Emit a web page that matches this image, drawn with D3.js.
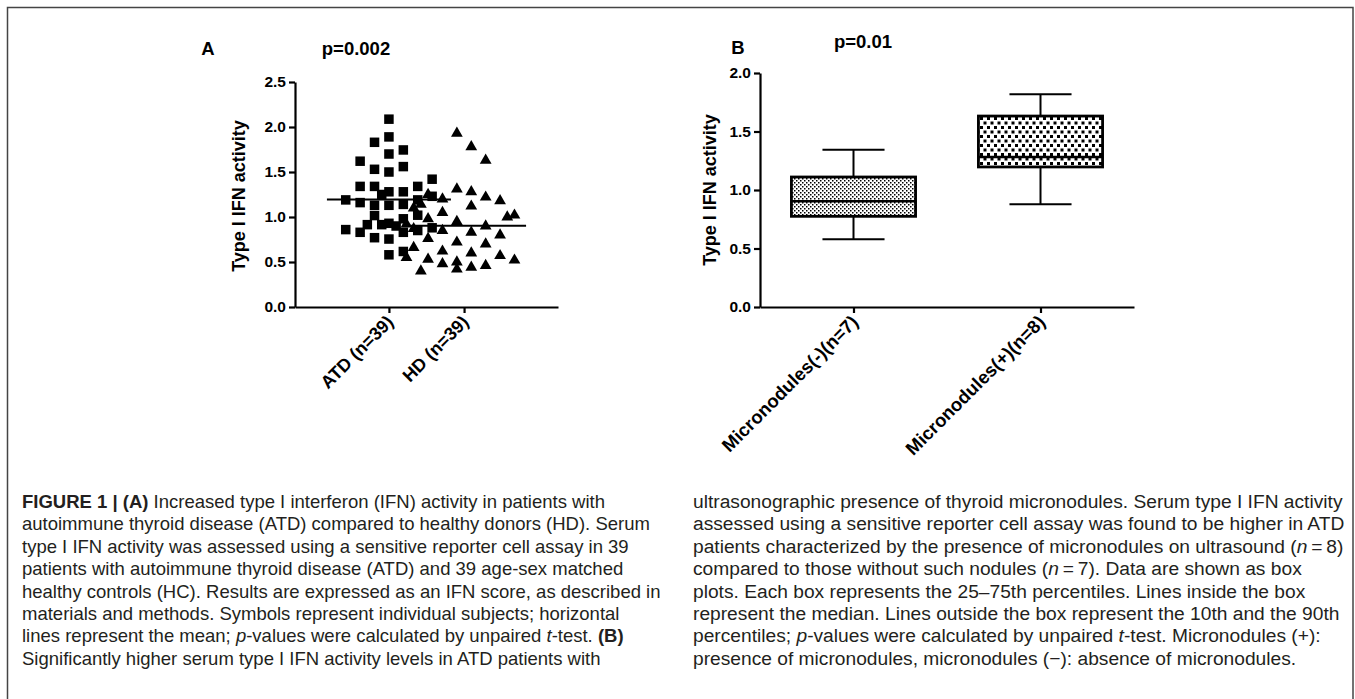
<!DOCTYPE html>
<html>
<head>
<meta charset="utf-8">
<script src="https://cdn.jsdelivr.net/npm/d3@7"></script>
<style>
  body { margin: 0; background: #fff; }
  svg text { font-family: "Liberation Sans", Arial, sans-serif; }
  .cap { fill: #231f20; }
</style>
</head>
<body>
<script>
var WIDTH = 1355;
var HEIGHT = 699;

// panel A : individual values, slot = column of the point inside the scatter
var groupsA = ["ATD (n=39)", "HD (n=39)"];
var atdValues = [2.087, 1.89, 1.83, 1.70, 1.745, 1.62, 1.53, 1.50, 1.56, 1.42,
                 1.34, 1.34, 1.34, 1.28, 1.28, 1.25, 1.23, 1.19, 1.16, 1.19,
                 1.13, 1.13, 1.14, 1.016, 0.98, 1.02, 0.915, 0.915, 0.93, 0.90,
                 0.86, 0.83, 0.83, 0.85, 0.88, 0.77, 0.755, 0.58, 0.617];
var atdSlots  = [0, 0, -2, 0, 2, -4, -2, 0, 2, 6,
                 -4, -2, 4, 0, 2, -1, 6, -6, -4, 4,
                 -2, 0, 2, -2, 2, 4, -3, -1, 0, 1,
                 -6, -4, 2, 4, 6, -2, 0, 0, 2];
var hdValues = [1.93, 1.78, 1.63, 1.31, 1.28, 1.25, 1.22, 1.20, 1.18, 1.12,
                1.10, 1.05, 1.02, 0.98, 0.95, 0.90, 0.87, 0.85, 0.83, 0.80,
                0.76, 0.72, 0.70, 0.66, 0.62, 0.60, 0.57, 0.55, 0.53, 0.52,
                0.50, 0.48, 0.46, 0.44, 0.42, 0.40, 1.00, 1.14, 0.92];
var hdSlots  = [-1, 1, 3, -1, 1, -5, 3, -3, 5, 1,
                -7, -3, 7, -5, -1, 3, -7, -3, 1, 5,
                -5, -1, 3, -7, -3, 1, 5, -8, -5, 7,
                -1, -3, 3, 1, -1, -6, 6, -6, -8];
var ticksA = [0, 0.5, 1, 1.5, 2, 2.5];

// panel B : box plots (10th, 25th, median, 75th, 90th percentiles)
var groupsB = ["Micronodules(-)(n=7)", "Micronodules(+)(n=8)"];
var p10 = [0.58, 0.878];
var q1 = [0.775, 1.197];
var median = [0.903, 1.282];
var q3 = [1.111, 1.632];
var p90 = [1.345, 1.818];
var ticksB = [0, 0.5, 1, 1.5, 2];

var yLabel = "Type I IFN activity";
var pA = "p=0.002";
var pB = "p=0.01";

var captionLeft = [
  "**FIGURE 1 | (A)** Increased type I interferon (IFN) activity in patients with",
  "autoimmune thyroid disease (ATD) compared to healthy donors (HD). Serum",
  "type I IFN activity was assessed using a sensitive reporter cell assay in 39",
  "patients with autoimmune thyroid disease (ATD) and 39 age-sex matched",
  "healthy controls (HC). Results are expressed as an IFN score, as described in",
  "materials and methods. Symbols represent individual subjects; horizontal",
  "lines represent the mean; _p_-values were calculated by unpaired _t_-test. **(B)**",
  "Significantly higher serum type I IFN activity levels in ATD patients with"
];
var captionRight = [
  "ultrasonographic presence of thyroid micronodules. Serum type I IFN activity",
  "assessed using a sensitive reporter cell assay was found to be higher in ATD",
  "patients characterized by the presence of micronodules on ultrasound (_n_\u2009=\u20098)",
  "compared to those without such nodules (_n_\u2009=\u20097). Data are shown as box",
  "plots. Each box represents the 25\u201375th percentiles. Lines inside the box",
  "represent the median. Lines outside the box represent the 10th and the 90th",
  "percentiles; _p_-values were calculated by unpaired _t_-test. Micronodules (+):",
  "presence of micronodules, micronodules (\u2212): absence of micronodules."
];

var translate = function (x, y) {
  return "translate(" + x + "," + y + ")";
};

var svg = d3.select("body").append("svg")
  .attr("width", WIDTH)
  .attr("height", HEIGHT);

// fill patterns for the boxes
var defs = svg.append("defs");
var fine = defs.append("pattern").attr("id", "fine")
  .attr("patternUnits", "userSpaceOnUse").attr("width", 4).attr("height", 4);
fine.append("rect").attr("width", 4).attr("height", 4).attr("fill", "#fff");
fine.append("rect").attr("width", 1.5).attr("height", 1.5).attr("fill", "#000");
fine.append("rect").attr("x", 2).attr("y", 2).attr("width", 1.5).attr("height", 1.5).attr("fill", "#000");

var coarse = defs.append("pattern").attr("id", "coarse")
  .attr("patternUnits", "userSpaceOnUse").attr("width", 7).attr("height", 9);
coarse.append("rect").attr("width", 7).attr("height", 9).attr("fill", "#fff");
coarse.append("rect").attr("width", 3).attr("height", 3).attr("fill", "#000");
coarse.append("rect").attr("x", 3.5).attr("y", 4.5).attr("width", 3).attr("height", 3).attr("fill", "#000");

// frame
svg.append("rect")
  .attr("x", 7.5).attr("y", 7.5)
  .attr("width", 1345.5).attr("height", 720)
  .attr("fill", "none").attr("stroke", "#444").attr("stroke-width", 1.5);

var styleAxis = function (g, size) {
  g.selectAll("path, line").attr("stroke", "#000").attr("stroke-width", 2.2);
  g.selectAll("text").attr("font-size", size).attr("font-weight", "bold")
    .attr("font-family", "'Liberation Sans', Arial, sans-serif").attr("fill", "#000");
};

var rotateLabels = function (g) {
  g.selectAll(".tick text")
    .attr("text-anchor", "end")
    .attr("transform", "translate(-5,6) rotate(-45)")
    .attr("dx", 0).attr("dy", "0.35em").attr("x", 0).attr("y", 8);
};

// ---------- panel A ----------
var xA = d3.scalePoint().domain(groupsA).range([295, 558]).padding(1.25);
var yA = d3.scaleLinear().domain([0, 2.5]).range([307, 82]);
var slotA = d3.scaleLinear().domain([-1, 1]).range([-7.2, 7.2]);

svg.append("g").attr("transform", translate(295, 0))
  .call(d3.axisLeft(yA).tickValues(ticksA).tickFormat(d3.format(".1f")).tickSize(6).tickSizeOuter(0))
  .call(styleAxis, 15.5);

svg.append("g").attr("transform", translate(0, 307))
  .call(d3.axisBottom(xA).tickSize(6).tickSizeOuter(0))
  .call(styleAxis, 18)
  .call(rotateLabels);

var SQ = 9.5;
svg.append("g").selectAll("rect")
  .data(atdValues)
  .enter()
  .append("rect")
  .attr("x", function (d, i) { return xA(groupsA[0]) + slotA(atdSlots[i]) - SQ / 2; })
  .attr("y", function (d) { return yA(d) - SQ / 2; })
  .attr("width", SQ).attr("height", SQ)
  .attr("fill", "#000");

svg.append("g").selectAll("path")
  .data(hdValues)
  .enter()
  .append("path")
  .attr("d", d3.symbol().type(d3.symbolTriangle).size(60))
  .attr("transform", function (d, i) { return translate(xA(groupsA[1]) + slotA(hdSlots[i]), yA(d)); })
  .attr("fill", "#000");

var means = [d3.mean(atdValues), d3.mean(hdValues)];
svg.append("g").selectAll("line")
  .data(means)
  .enter()
  .append("line")
  .attr("x1", function (d, i) { return xA(groupsA[i]) - 62; })
  .attr("x2", function (d, i) { return xA(groupsA[i]) + 62; })
  .attr("y1", function (d) { return yA(d); })
  .attr("y2", function (d) { return yA(d); })
  .attr("stroke", "#000").attr("stroke-width", 2);

svg.append("text").attr("transform", translate(239, 196) + " rotate(-90)")
  .attr("text-anchor", "middle").attr("dy", "0.35em")
  .attr("font-size", 18).attr("font-weight", "bold").text(yLabel);

svg.append("text").attr("x", 208).attr("y", 55).attr("text-anchor", "middle")
  .attr("font-size", 18.5).attr("font-weight", "bold").text("A");
svg.append("text").attr("x", 356).attr("y", 55).attr("text-anchor", "middle")
  .attr("font-size", 18.5).attr("font-weight", "bold").text(pA);

// ---------- panel B ----------
var xB = d3.scalePoint().domain(groupsB).range([760, 1134]).padding(0.5);
var yB = d3.scaleLinear().domain([0, 2]).range([307, 73]);
var stepB = xB.step();
var patterns = ["url(#fine)", "url(#coarse)"];

svg.append("g").attr("transform", translate(760, 0))
  .call(d3.axisLeft(yB).tickValues(ticksB).tickFormat(d3.format(".1f")).tickSize(6).tickSizeOuter(0))
  .call(styleAxis, 15.5);

svg.append("g").attr("transform", translate(0, 307))
  .call(d3.axisBottom(xB).tickSize(6).tickSizeOuter(0))
  .call(styleAxis, 18.5)
  .call(rotateLabels);

var boxes = svg.append("g").selectAll("g")
  .data(groupsB)
  .enter()
  .append("g");

boxes.append("line")
  .attr("x1", function (d) { return xB(d); })
  .attr("x2", function (d) { return xB(d); })
  .attr("y1", function (d, i) { return yB(p90[i]); })
  .attr("y2", function (d, i) { return yB(p10[i]); })
  .attr("stroke", "#000").attr("stroke-width", 2);

boxes.selectAll(".whisker")
  .data(function (d, i) { return [{ x: xB(d), v: p10[i] }, { x: xB(d), v: p90[i] }]; })
  .enter()
  .append("line")
  .attr("x1", function (d) { return d.x - stepB * 0.166; })
  .attr("x2", function (d) { return d.x + stepB * 0.166; })
  .attr("y1", function (d) { return yB(d.v); })
  .attr("y2", function (d) { return yB(d.v); })
  .attr("stroke", "#000").attr("stroke-width", 2);

boxes.append("rect")
  .attr("x", function (d) { return xB(d) - stepB * 0.332; })
  .attr("width", stepB * 0.664)
  .attr("y", function (d, i) { return yB(q3[i]); })
  .attr("height", function (d, i) { return yB(q1[i]) - yB(q3[i]); })
  .attr("fill", function (d, i) { return patterns[i]; })
  .attr("stroke", "#000").attr("stroke-width", 2.8);

boxes.append("line")
  .attr("x1", function (d) { return xB(d) - stepB * 0.332; })
  .attr("x2", function (d) { return xB(d) + stepB * 0.332; })
  .attr("y1", function (d, i) { return yB(median[i]); })
  .attr("y2", function (d, i) { return yB(median[i]); })
  .attr("stroke", "#000").attr("stroke-width", 2.5);

svg.append("text").attr("transform", translate(710, 190) + " rotate(-90)")
  .attr("text-anchor", "middle").attr("dy", "0.35em")
  .attr("font-size", 18).attr("font-weight", "bold").text(yLabel);

svg.append("text").attr("x", 738).attr("y", 54).attr("text-anchor", "middle")
  .attr("font-size", 18.5).attr("font-weight", "bold").text("B");
svg.append("text").attr("x", 863).attr("y", 48).attr("text-anchor", "middle")
  .attr("font-size", 18.5).attr("font-weight", "bold").text(pB);

// ---------- caption ----------
var drawCaption = function (lines, x0, size) {
  var lineY = d3.scaleLinear().domain([0, 1]).range([508, 530.4]);
  lines.forEach(function (line, i) {
    var t = svg.append("text").attr("class", "cap")
      .attr("x", x0).attr("y", lineY(i)).attr("font-size", size);
    line.split(/(\*\*[^*]+\*\*|_[^_]+_)/).forEach(function (part) {
      if (!part) return;
      var s = t.append("tspan");
      if (part.indexOf("**") === 0) {
        s.attr("font-weight", "bold").text(part.slice(2, -2));
      } else if (part.charAt(0) === "_") {
        s.attr("font-style", "italic").text(part.slice(1, -1));
      } else {
        s.text(part);
      }
    });
  });
};
drawCaption(captionLeft, 22, 18.5);
drawCaption(captionRight, 693, 19.2);
</script>
</body>
</html>
